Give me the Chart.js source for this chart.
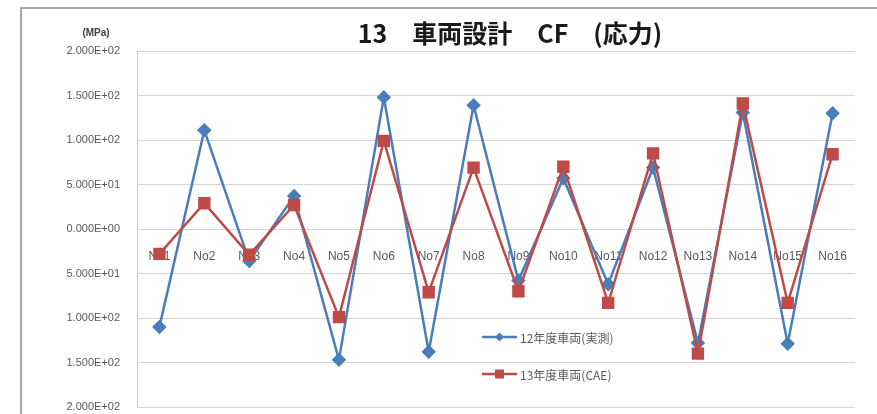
<!DOCTYPE html>
<html lang="ja">
<head>
<meta charset="utf-8">
<script src="https://cdn.jsdelivr.net/npm/chart.js@4"></script>
<style>
  html, body { margin: 0; padding: 0; background: #fff; }
  #wrap { position: relative; width: 877px; height: 414px; }
</style>
</head>
<body>
<div id="wrap"><canvas id="cfChart"></canvas></div>
<script>
// データ
const categories = ["No1", "No2", "No3", "No4", "No5", "No6", "No7", "No8",
                    "No9", "No10", "No11", "No12", "No13", "No14", "No15", "No16"];
const measured12 = [-110, 111, -36, 37, -147, 148, -138, 139, -58, 57, -62, 69, -128, 131, -129, 130];
const cae13 = [-28, 29, -29, 27, -99, 99, -71, 69, -70, 70, -83, 85, -140, 141, -83, 84];
const seriesNames = ["12年度車両(実測)", "13年度車両(CAE)"];
const chartTitle = "13　車両設計　CF　(応力)";
const unitLabel = "(MPa)";

const blue = "#4a7ebb";
const red = "#be4b48";
const textGray = "#595959";

// 2.000E+02 形式 (マイナス記号は元の図と同じく表示しない)
function sciLabel(v) {
  const s = Math.abs(v).toExponential(3).toUpperCase();
  const [m, e] = s.split("E");
  const sign = e[0] === "-" ? "-" : "+";
  const digits = e.replace(/[+-]/, "").padStart(2, "0");
  return m + "E" + sign + digits;
}

// 枠・タイトル・単位
const framePlugin = {
  id: "frame",
  beforeDraw(chart) {
    const ctx = chart.ctx;
    ctx.save();
    ctx.fillStyle = "#fff";
    ctx.fillRect(0, 0, chart.width, chart.height);
    ctx.strokeStyle = "#a6a6a6";
    ctx.lineWidth = 2;
    ctx.strokeRect(21, 8, chart.width + 20, chart.height + 20);
    ctx.restore();
  },
  afterDraw(chart) {
    const ctx = chart.ctx;
    ctx.save();
    ctx.fillStyle = "#1a1a1a";
    ctx.font = "bold 25px 'Noto Sans CJK JP', sans-serif";
    ctx.textAlign = "center";
    ctx.textBaseline = "middle";
    ctx.fillText(chartTitle, 510, 33);
    ctx.fillStyle = "#404040";
    ctx.font = "bold 10px 'Liberation Sans', sans-serif";
    ctx.fillText(unitLabel, 96, 33);
    ctx.restore();
  }
};

// 凡例 (プロットエリア内)
const insideLegend = {
  id: "insideLegend",
  afterDraw(chart) {
    const ctx = chart.ctx;
    const rows = [337, 374];
    ctx.save();
    chart.data.datasets.forEach((ds, i) => {
      const y = rows[i];
      ctx.strokeStyle = ds.borderColor;
      ctx.lineWidth = 2.5;
      ctx.beginPath();
      ctx.moveTo(482, y);
      ctx.lineTo(517, y);
      ctx.stroke();
      ctx.fillStyle = ds.pointBackgroundColor;
      if (ds.pointStyle === "rectRot") {
        ctx.beginPath();
        ctx.moveTo(499.5, y - 4.5);
        ctx.lineTo(504, y);
        ctx.lineTo(499.5, y + 4.5);
        ctx.lineTo(495, y);
        ctx.closePath();
        ctx.fill();
      } else {
        ctx.fillRect(495, y - 4.5, 9, 9);
      }
      ctx.fillStyle = textGray;
      ctx.font = "12px 'Noto Sans CJK JP', sans-serif";
      ctx.textAlign = "left";
      ctx.textBaseline = "middle";
      ctx.fillText(ds.label, 520, y + 1);
    });
    ctx.restore();
  }
};

const ctx = document.getElementById("cfChart").getContext("2d");
new Chart(ctx, {
  type: "line",
  data: {
    labels: categories,
    datasets: [
      {
        label: seriesNames[0],
        data: measured12,
        borderColor: blue,
        backgroundColor: blue,
        pointBackgroundColor: blue,
        pointBorderColor: blue,
        pointStyle: "rectRot",
        pointRadius: 5.5,
        borderWidth: 2.5,
        tension: 0,
        order: 1
      },
      {
        label: seriesNames[1],
        data: cae13,
        borderColor: red,
        backgroundColor: red,
        pointBackgroundColor: red,
        pointBorderColor: red,
        pointStyle: "rect",
        pointRadius: 7,
        borderWidth: 2.5,
        tension: 0,
        order: 0
      }
    ]
  },
  options: {
    responsive: true,
    maintainAspectRatio: false,
    animation: false,
    layout: {
      autoPadding: false,
      padding: { left: 21, right: 22, top: 51, bottom: 7 }
    },
    scales: {
      x: {
        position: { y: 0 },
        offset: true,
        afterFit: (scale) => { scale.height = 0; },
        grid: { display: false, offset: true },
        border: { display: false },
        ticks: {
          color: textGray,
          padding: 12,
          maxRotation: 0,
          autoSkip: false,
          font: { family: "'Liberation Sans', sans-serif", size: 12 }
        }
      },
      y: {
        min: -200,
        max: 200,
        afterFit: (scale) => {
          scale.width = 116;
          scale.paddingTop = 0;
          scale.paddingBottom = 0;
        },
        grid: { color: "#d4d4d4", lineWidth: 1, drawTicks: false },
        border: { display: true, color: "#c8c8c8" },
        ticks: {
          stepSize: 50,
          color: textGray,
          padding: 17,
          font: { family: "'Liberation Sans', sans-serif", size: 11 },
          callback: (v) => sciLabel(v)
        }
      }
    },
    plugins: {
      legend: { display: false },
      tooltip: { enabled: false }
    }
  },
  plugins: [framePlugin, insideLegend]
});
</script>
</body>
</html>
